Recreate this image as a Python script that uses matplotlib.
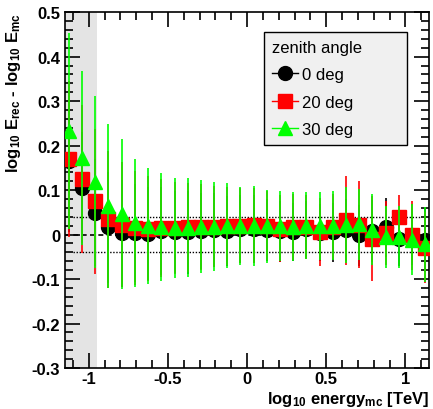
import numpy as np
import matplotlib
matplotlib.use('Agg')
import matplotlib.pyplot as plt
from matplotlib.lines import Line2D
from matplotlib.ticker import MultipleLocator

plt.rcParams['font.family'] = ['Liberation Sans', 'DejaVu Sans']
plt.rcParams['mathtext.fontset'] = 'custom'
plt.rcParams['mathtext.rm'] = 'Liberation Sans:bold'
plt.rcParams['mathtext.bf'] = 'Liberation Sans:bold'
plt.rcParams['mathtext.default'] = 'bf'

# ---------------------------------------------------------------------------
# data
# ---------------------------------------------------------------------------
log_e = [-1.125, -1.042, -0.958, -0.875, -0.792, -0.708, -0.625, -0.542,
         -0.458, -0.375, -0.292, -0.208, -0.125, -0.042, 0.042, 0.125,
         0.208, 0.292, 0.375, 0.458, 0.542, 0.625, 0.708, 0.792,
         0.875, 0.958, 1.042, 1.125]

bias_0 = [0.165, 0.105, 0.049, 0.016, 0.003, 0.003, 0.002, 0.008,
          0.006, 0.005, 0.008, 0.010, 0.008, 0.012, 0.012, 0.010,
          0.007, 0.006, 0.012, 0.004, 0.005, 0.010, -0.002, 0.008,
          0.016, -0.010, 0.000, -0.013]
err_0 = [0.160, 0.125, 0.120, 0.125, 0.120, 0.110, 0.105, 0.098,
         0.093, 0.093, 0.086, 0.083, 0.078, 0.076, 0.076, 0.070,
         0.068, 0.066, 0.064, 0.064, 0.066, 0.070, 0.068, 0.070,
         0.066, 0.060, 0.068, 0.072]

bias_20 = [0.170, 0.125, 0.075, 0.034, 0.022, 0.015, 0.013, 0.014,
           0.015, 0.016, 0.017, 0.018, 0.019, 0.020, 0.021, 0.020,
           0.013, 0.017, 0.018, 0.006, 0.018, 0.032, 0.022, -0.009,
           0.003, 0.040, -0.002, -0.030]
err_20 = [0.175, 0.166, 0.163, 0.154, 0.140, 0.128, 0.118, 0.110,
          0.104, 0.100, 0.096, 0.092, 0.088, 0.084, 0.084, 0.078,
          0.075, 0.074, 0.072, 0.076, 0.074, 0.100, 0.098, 0.096,
          0.072, 0.050, 0.078, 0.080]

bias_30 = [0.232, 0.172, 0.118, 0.064, 0.046, 0.026, 0.019, 0.017,
           0.015, 0.015, 0.018, 0.017, 0.020, 0.020, 0.020, 0.019,
           0.019, 0.018, 0.020, 0.019, 0.020, 0.022, 0.023, 0.011,
           -0.005, -0.005, -0.012, -0.022]
err_30 = [0.220, 0.195, 0.194, 0.185, 0.169, 0.143, 0.131, 0.121,
          0.113, 0.111, 0.104, 0.100, 0.095, 0.088, 0.090, 0.082,
          0.079, 0.078, 0.075, 0.076, 0.078, 0.085, 0.080, 0.080,
          0.070, 0.070, 0.080, 0.085]

series = [
    ('0 deg', bias_0, err_0, 'black', 'o', 10),
    ('20 deg', bias_20, err_20, '#ff0000', 's', 10.5),
    ('30 deg', bias_30, err_30, '#00ff00', '^', 10.5),
]

# ---------------------------------------------------------------------------
# plot
# ---------------------------------------------------------------------------
fig = plt.figure(figsize=(4.33, 4.10), dpi=100)
ax = fig.add_axes([0.150, 0.100, 0.841, 0.868])

ax.set_xlim(-1.15, 1.15)
ax.set_ylim(-0.3, 0.5)

# shaded region below threshold
ax.axvspan(-1.15, -0.95, color='#e4e4e4', lw=0, zorder=0)

# reference lines
ax.axhline(0.0, color='black', lw=1.2, ls=(0, (3, 2)), zorder=1)
ax.hlines([0.04, -0.04], -1.1, 1.1, colors='black', lw=1.0,
          linestyles=(0, (1, 1.2)), zorder=1)

handles = []
for i, (lab, y, e, col, mk, ms) in enumerate(series):
    ax.errorbar(log_e, y, yerr=e, fmt=mk, color=col, ms=ms, mec=col,
                mfc=col, elinewidth=1.2, capsize=0, zorder=2 + i)
    handles.append(Line2D([], [], color=col, marker=mk, ms=ms, lw=1.0,
                          label=lab))

# ROOT-style ticks
ax.xaxis.set_major_locator(MultipleLocator(0.5))
ax.xaxis.set_minor_locator(MultipleLocator(0.1))
ax.yaxis.set_major_locator(MultipleLocator(0.1))
ax.yaxis.set_minor_locator(MultipleLocator(0.02))
ax.tick_params(which='both', direction='in', top=True, right=True,
               width=1.2, labelsize=12)
ax.tick_params(which='major', length=11)
ax.tick_params(which='minor', length=6)
ax.set_yticks([-0.3, -0.2, -0.1, 0, 0.1, 0.2, 0.3, 0.4, 0.5])
ax.set_yticklabels(['-0.3', '-0.2', '-0.1', '0', '0.1', '0.2', '0.3',
                    '0.4', '0.5'], fontweight='bold')
ax.set_xticks([-1, -0.5, 0, 0.5, 1])
ax.set_xticklabels(['-1', '-0.5', '0', '0.5', '1'], fontweight='bold')
ax.tick_params(axis='x', pad=2.5)
for sp in ax.spines.values():
    sp.set_linewidth(1.2)

# axis titles (ROOT places them at the end of the axis)
ax.text(-0.14, 1.0, r'log$_{10}$ E$_{rec}$ - log$_{10}$ E$_{mc}$',
        transform=ax.transAxes, rotation=90, ha='center', va='top',
        fontsize=12, fontweight='bold')
ax.text(1.0, -0.058, r'log$_{10}$ energy$_{mc}$ [TeV]',
        transform=ax.transAxes, ha='right', va='top',
        fontsize=12, fontweight='bold')

leg = ax.legend(handles=handles, title='zenith angle', loc='upper left',
                bbox_to_anchor=(0.547, 0.629, 0.393, 0.315), mode='expand',
                borderaxespad=0, fontsize=12, title_fontsize=12,
                alignment='left', fancybox=False, framealpha=1,
                facecolor='#f0f0f0', edgecolor='black', handlelength=1.6,
                handletextpad=0.25, borderpad=0.45, labelspacing=0.75)
leg.get_frame().set_linewidth(1.0)

fig.savefig('out.png', dpi=100)
